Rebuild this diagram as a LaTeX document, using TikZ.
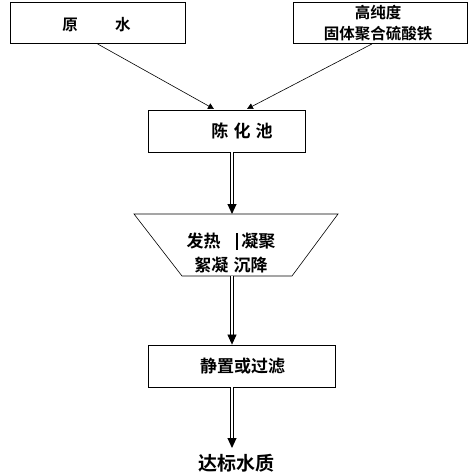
\documentclass[tikz,border=0pt]{standalone}
\usepackage{fontspec}
\setmainfont{Noto Sans CJK SC}[BoldFont={Noto Sans CJK SC Bold}]
\usetikzlibrary{arrows.meta,calc}
\tikzset{
  stage/.style={draw, line width=0.8pt, inner sep=0pt},
  label/.style={font=\bfseries\fontsize{17}{20}\selectfont, inner sep=0pt},
  feed/.style={-{Triangle[length=6pt,width=6pt]}, line width=0.6pt},
  pipe/.style={double, double distance=1.6pt, line width=1pt, -{Triangle[length=10pt,width=9pt]}},
  thinpipe/.style={double, double distance=1.8pt, line width=0.7pt, -{Triangle[length=10pt,width=9pt]}}
}
\begin{document}
\begin{tikzpicture}[x=1pt,y=1pt]
  \useasboundingbox (0,0) rectangle (472,-472);
  % raw materials
  \node[stage, minimum width=175, minimum height=41] (yuanshui) at (97.5,-23) {};
  \node[label, font=\bfseries\fontsize{15.5}{18}\selectfont] at (96.5,-25) {原\hspace{2.4em}水};
  \node[stage, minimum width=174, minimum height=41] (jiyao) at (380,-23) {};
  \node[label, align=center, font=\bfseries\fontsize{15.5}{21}\selectfont] at (378,-23) {高纯度\\固体聚合硫酸铁};
  \node[stage, minimum width=157, minimum height=42] (chenhua) at (226.5,-131) {};
  \node[label] at (242,-131) {陈\hspace{0.3em}化\hspace{0.3em}池};
  % reaction tank
  \coordinate (tl) at (134,-214);
  \coordinate (tr) at (338,-214);
  \coordinate (br) at (292,-276);
  \coordinate (bl) at (182,-276);
  \draw[line width=0.6pt] (tl) -- (tr) -- (br) -- (bl) -- cycle;
  \node[label, align=center, font=\bfseries\fontsize{17}{24}\selectfont] (fanying) at (231,-253)
       {发热\hspace{0.9em}\rule[-0.12em]{1.9pt}{1em}\hspace{0.2em}凝聚\\絮凝\hspace{0.3em}沉降};
  \node[stage, minimum width=187, minimum height=42] (jingzhi) at (241.5,-366) {};
  \node[label] at (242.5,-366) {静置或过滤};
  \node[label, font=\bfseries\fontsize{19}{22}\selectfont] (dabiao) at (236,-463) {达标水质};
  % flow
  \coordinate (in1) at (214,-109);
  \coordinate (in2) at (247,-109);
  \draw[feed] (yuanshui.south) -- (in1);
  \draw[feed] ($(jiyao.south)+(-8,0)$) -- (in2);
  \draw[pipe] (chenhua.south -| 232,0) -- (232,-214);
  \draw[thinpipe] (232,-276) -- (jingzhi.north -| 232,0);
  \draw[pipe] (jingzhi.south -| 232,0) -- (232,-448);
\end{tikzpicture}
\end{document}
